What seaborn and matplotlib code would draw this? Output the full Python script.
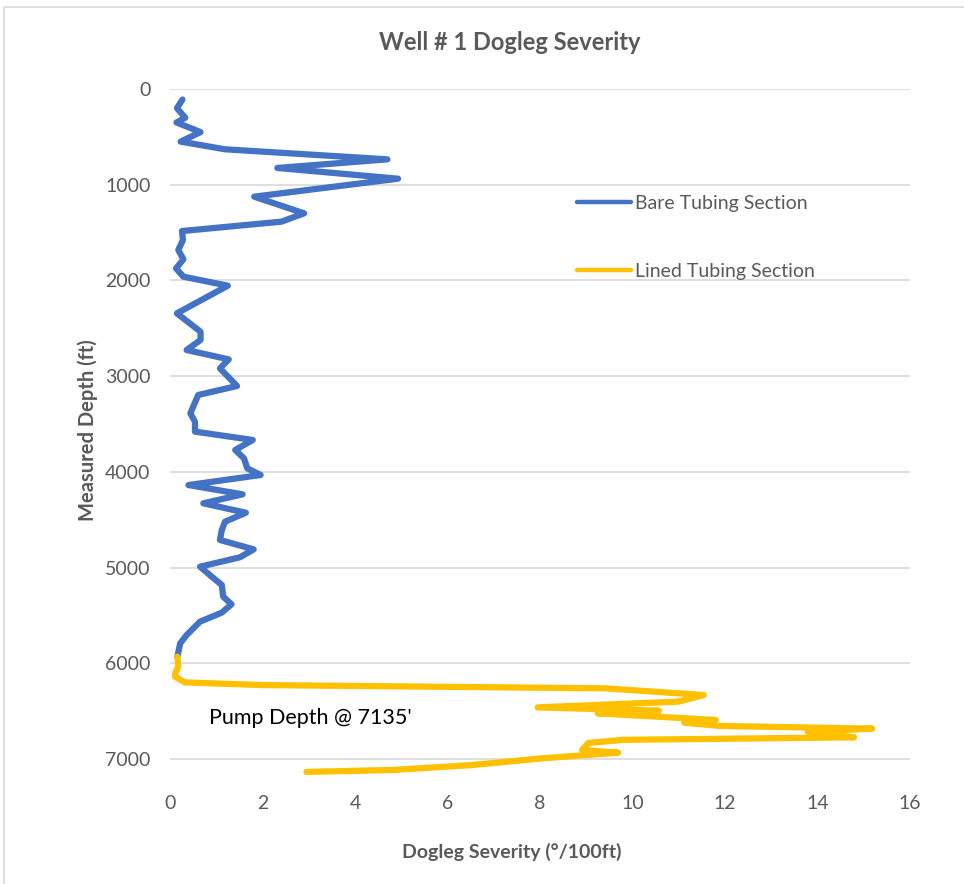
import matplotlib
matplotlib.use("Agg")
import matplotlib.pyplot as plt
from matplotlib.patches import Rectangle
from matplotlib.lines import Line2D
import seaborn as sns
import pandas as pd

# Survey data: measured depth (ft) and dogleg severity (deg/100ft)
bare_depth = [110, 200, 300, 350, 450, 550, 630, 735, 825, 937, 1125, 1299, 1386,
              1484, 1578, 1682, 1780, 1874, 1961, 2055, 2344, 2536, 2622, 2727,
              2825, 2919, 3103, 3197, 3389, 3476, 3580, 3667, 3772, 3859, 3963,
              4033, 4138, 4235, 4329, 4427, 4521, 4608, 4712, 4810, 4893, 4991,
              5078, 5182, 5304, 5384, 5471, 5565, 5705, 5792, 5931]
bare_severity = [0.27, 0.15, 0.33, 0.14, 0.66, 0.23, 1.19, 4.70, 2.32, 4.93, 1.82,
                 2.90, 2.41, 0.26, 0.28, 0.18, 0.29, 0.13, 0.29, 1.25, 0.15, 0.66,
                 0.66, 0.36, 1.27, 1.08, 1.45, 0.61, 0.44, 0.54, 0.54, 1.79, 1.41,
                 1.60, 1.67, 1.96, 0.40, 1.57, 0.72, 1.64, 1.19, 1.12, 1.08, 1.81,
                 1.51, 0.65, 0.86, 1.12, 1.15, 1.33, 1.12, 0.65, 0.36, 0.22, 0.16]

lined_depth = [5931, 6036, 6106, 6140, 6200, 6228, 6262, 6332, 6401, 6461, 6496,
               6523, 6593, 6621, 6655, 6683, 6715, 6774, 6800, 6833, 6906, 6934,
               6995, 7063, 7115, 7135]
lined_severity = [0.16, 0.18, 0.11, 0.11, 0.32, 2.0, 9.41, 11.54, 10.99, 7.95,
                  10.57, 9.25, 11.8, 11.12, 11.89, 15.18, 13.79, 14.79, 9.8, 9.05,
                  8.91, 9.69, 8.0, 6.55, 4.82, 2.95]

x_ticks = [0, 2, 4, 6, 8, 10, 12, 14, 16]
y_ticks = [0, 1000, 2000, 3000, 4000, 5000, 6000, 7000]

BLUE = "#4472C4"
GOLD = "#FFC000"
GRAY_TEXT = "#595959"
GRID = "#D9D9D9"

sns.set_theme(style="white")
plt.rcParams["font.family"] = ["Lato", "DejaVu Sans"]

W, H = 964, 884
fig = plt.figure(figsize=(W / 100, H / 100), dpi=100)
ax = fig.add_axes([170 / W, 1 - 785 / H, (910 - 170) / W, (785 - 89) / H])

bare = pd.DataFrame({"severity": bare_severity, "depth": bare_depth})
lined = pd.DataFrame({"severity": lined_severity, "depth": lined_depth})

sns.lineplot(data=bare, x="severity", y="depth", sort=False, estimator=None,
             color=BLUE, lw=4.5, ax=ax, solid_capstyle="round",
             solid_joinstyle="round", zorder=3)
sns.lineplot(data=lined, x="severity", y="depth", sort=False, estimator=None,
             color=GOLD, lw=4.5, ax=ax, solid_capstyle="round",
             solid_joinstyle="round", zorder=4)

ax.set_xlim(0, 16)
ax.set_ylim(7272, 0)
ax.set_xticks(x_ticks)
ax.set_yticks(y_ticks)
ax.set_xticklabels([str(v) for v in x_ticks])
ax.set_yticklabels([str(v) for v in y_ticks])
ax.yaxis.grid(True, color=GRID, lw=1.2)
ax.xaxis.grid(False)
for s in ax.spines.values():
    s.set_visible(False)
ax.tick_params(axis="both", length=0, labelsize=14, labelcolor=GRAY_TEXT)
ax.tick_params(axis="y", pad=14)
ax.tick_params(axis="x", pad=7)

ax.set_xlabel("Dogleg Severity (°/100ft)", fontsize=14, fontweight="bold",
              color=GRAY_TEXT, labelpad=0)
ax.xaxis.set_label_coords((512 - 170) / (910 - 170), -(843 - 785) / (785 - 89))
ax.set_ylabel("Measured Depth (ft)", fontsize=14.5, fontweight="bold",
              color=GRAY_TEXT)
ax.yaxis.set_label_coords(-(170 - 98) / (910 - 170), (785 - 430) / (785 - 89))

fig.text(510 / W, 1 - 42 / H, "Well # 1 Dogleg Severity", ha="center",
         va="center", fontsize=17, fontweight="bold", color=GRAY_TEXT)

ax.text(0.85, 6570, "Pump Depth @ 7135'", fontsize=15.5, color="black",
        ha="left", va="center")

handles = [Line2D([], [], color=BLUE, lw=3.2, solid_capstyle="round"),
           Line2D([], [], color=GOLD, lw=3.2, solid_capstyle="round")]
leg = fig.legend(handles, ["Bare Tubing Section", "Lined Tubing Section"],
                 loc="upper left", bbox_to_anchor=(577 / W, 1 - 195 / H),
                 frameon=False, fontsize=14, handlelength=2.8,
                 handletextpad=0.2, labelspacing=2.62, borderpad=0,
                 borderaxespad=0)
for t in leg.get_texts():
    t.set_color(GRAY_TEXT)

# light outer frame around the chart area
fig.patches.append(Rectangle((4 / W, -0.05), 1.2, 1 - 7 / H + 0.05,
                             transform=fig.transFigure, fill=False,
                             edgecolor=GRID, lw=1.2))

fig.savefig("out.png", dpi=100)
